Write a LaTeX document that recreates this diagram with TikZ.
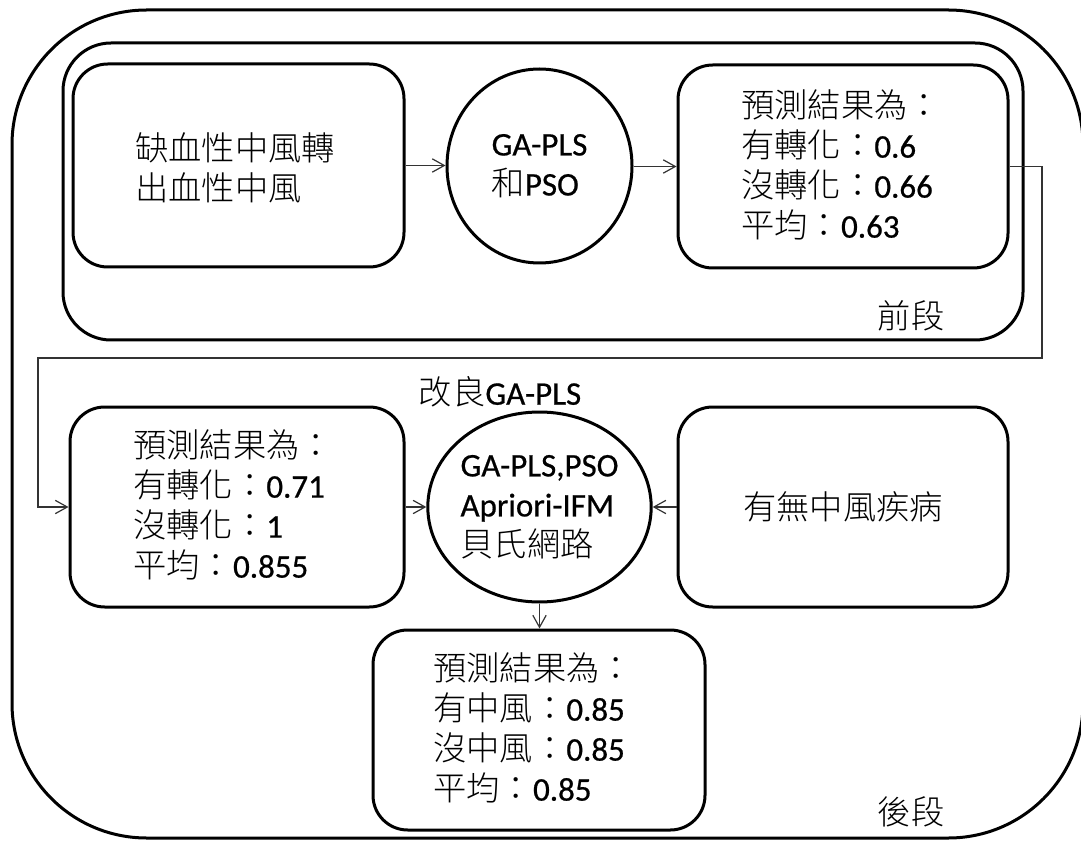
\documentclass[tikz,border=0pt]{standalone}
\usepackage{fontspec}
\setmainfont{Carlito}[FakeBold=0.6,Scale=1.03]
\IfFontExistsTF{Noto Sans CJK TC Light}
  {\newfontfamily\cjk[Scale=1.04]{Noto Sans CJK TC Light}}
  {\newfontfamily\cjk[Scale=1.04]{Noto Sans CJK TC}}
\newcommand\zh[1]{{\cjk #1}}
\usetikzlibrary{arrows.meta,shapes.geometric}
\begin{document}
\begin{tikzpicture}[x=0.75pt,y=-0.75pt,
  every node/.style={font=\fontsize{24pt}{30pt}\selectfont, inner sep=0pt},
  frame/.style={draw, line width=2.25pt, rectangle},
  bigbox/.style={frame, rounded corners=101pt},
  stagebox/.style={frame, rounded corners=36pt},
  roundbox/.style={frame, rounded corners=26pt},
  algo/.style={draw, line width=2.25pt, ellipse, align=left},
  txt/.style={align=left, anchor=west},
  conn/.style={line width=0.9pt, draw=black!80, -{Straight Barb[length=9pt,width=10pt,line width=0.9pt]}}
]
\useasboundingbox (0,0) rectangle (1081,841);
\fill[white] (0,0) rectangle (1081,841);

% containers
\node[bigbox, minimum width={1071*0.75pt}, minimum height={828*0.75pt}] (outer) at (547.5,424) {};
\node[stagebox, minimum width={960*0.75pt}, minimum height={297*0.75pt}] (front) at (543,191.5) {};

% first stage
\node[roundbox, minimum width={331*0.75pt}, minimum height={203*0.75pt}] (A) at (238.5,165.5) {};
\node[txt] (tA) at (135,168) {\zh{缺血性中風轉}\\\zh{出血性中風}};
\node[algo, minimum width={185*0.75pt}, minimum height={194*0.75pt}] (C1) at (539.5,166) {GA-PLS\\\zh{和}PSO};
\node[roundbox, minimum width={330*0.75pt}, minimum height={203*0.75pt}] (B) at (843,166.5) {};
\node[txt] (tB) at (741,165) {\zh{預測結果為：}\\\zh{有轉化：}0.6\\\zh{沒轉化：}0.66\\\zh{平均：}0.63};
\node (front label) at (911,316) {\zh{前段}};

% second stage
\node (improved) at (500,392) {\zh{改良}GA-PLS};
\node[roundbox, minimum width={334*0.75pt}, minimum height={200*0.75pt}] (C) at (237,507) {};
\node[txt] (tC) at (133,505) {\zh{預測結果為：}\\\zh{有轉化：}0.71\\\zh{沒轉化：}1\\\zh{平均：}0.855};
\node[algo, minimum width={185*0.75pt}, minimum height={190*0.75pt}] (C2) at (539.5,507) {GA-PLS,PSO\\Apriori-IFM\\\zh{貝氏網路}};
\node[roundbox, minimum width={330*0.75pt}, minimum height={200*0.75pt}] (D) at (843,507) {\zh{有無中風疾病}};
\node[roundbox, minimum width={332*0.75pt}, minimum height={200*0.75pt}] (E) at (539,730) {};
\node[txt] (tE) at (433,728) {\zh{預測結果為：}\\\zh{有中風：}0.85\\\zh{沒中風：}0.85\\\zh{平均：}0.85};
\node (back label) at (911,812) {\zh{後段}};

% connectors
\coordinate (r1) at (1042,358);
\coordinate (l1) at (38,358);
\draw[conn] (A.east) -- (C1.west |- A.east);
\draw[conn] (C1.east |- B.west) -- (B.west);
\draw[conn] (B.east) -| (r1) -- (l1) |- (C.west);
\draw[conn] (C.east) -- (C2.west);
\draw[conn] (D.west) -- (C2.east);
\draw[conn] (C2.south) -- (E.north -| C2.south);
\end{tikzpicture}
\end{document}
